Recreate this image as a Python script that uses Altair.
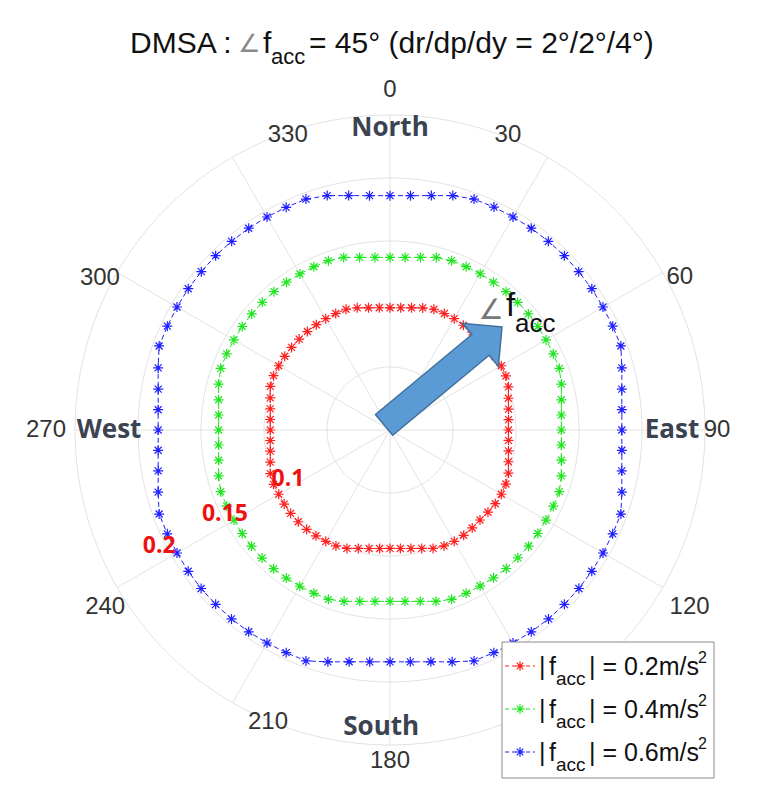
import altair as alt
import pandas as pd

# ---------------- data ----------------
angles = list(range(0, 360, 5))  # compass degrees, clockwise from North

red_r = [0.097, 0.0974, 0.0985, 0.1003, 0.102, 0.102, 0.102, 0.1015, 0.1015, 0.1015,
         0.1015, 0.1015, 0.102, 0.1015, 0.1000, 0.0973, 0.0955, 0.0944, 0.094, 0.0944,
         0.0955, 0.0973, 0.1000, 0.1015, 0.102, 0.102, 0.1015, 0.101, 0.1015, 0.102,
         0.102, 0.1015, 0.1000, 0.0973, 0.0955, 0.0944, 0.094, 0.0944, 0.0955, 0.0973,
         0.1000, 0.1015, 0.102, 0.1025, 0.103, 0.103, 0.103, 0.1025, 0.102, 0.102,
         0.1011, 0.0984, 0.0965, 0.0954, 0.095, 0.0954, 0.0965, 0.0984, 0.1011, 0.102,
         0.102, 0.102, 0.102, 0.102, 0.102, 0.102, 0.102, 0.102, 0.102, 0.1004,
         0.0985, 0.0974]

green_r = [0.137, 0.1375, 0.1391, 0.1418, 0.143, 0.143, 0.1432, 0.1432, 0.1433, 0.1433,
           0.1433, 0.1432, 0.143, 0.143, 0.143, 0.1408, 0.1381, 0.1365, 0.136, 0.1365,
           0.1381, 0.1408, 0.143, 0.143, 0.143, 0.1432, 0.1435, 0.1435, 0.1435, 0.1432,
           0.143, 0.143, 0.143, 0.1408, 0.1381, 0.1365, 0.136, 0.1365, 0.1381, 0.1408,
           0.143, 0.143, 0.1432, 0.1435, 0.1437, 0.1437, 0.1435, 0.1432, 0.143, 0.143,
           0.143, 0.1408, 0.1381, 0.1365, 0.136, 0.1365, 0.1381, 0.1408, 0.143, 0.143,
           0.143, 0.1432, 0.1433, 0.1433, 0.1433, 0.1432, 0.143, 0.143, 0.143, 0.1418,
           0.1391, 0.1375]

blue_r = [0.186, 0.1867, 0.1889, 0.1926, 0.195, 0.1952, 0.1952, 0.1955, 0.1955, 0.1957,
          0.1955, 0.1955, 0.1952, 0.195, 0.195, 0.1905, 0.1868, 0.1847, 0.184, 0.1847,
          0.1868, 0.1905, 0.195, 0.195, 0.1952, 0.1955, 0.1957, 0.1957, 0.1957, 0.1955,
          0.1952, 0.195, 0.195, 0.1905, 0.1868, 0.1847, 0.184, 0.1847, 0.1868, 0.1905,
          0.195, 0.195, 0.1952, 0.1955, 0.1957, 0.1957, 0.1957, 0.1955, 0.1952, 0.195,
          0.195, 0.1905, 0.1868, 0.1847, 0.184, 0.1847, 0.1868, 0.1905, 0.195, 0.195,
          0.1952, 0.1955, 0.1955, 0.1957, 0.1955, 0.1955, 0.1952, 0.195, 0.195, 0.1926,
          0.1889, 0.1867]

series_names = ["0.2", "0.4", "0.6"]
series_colors = ["#ff1f1f", "#1fe61f", "#1f1fff"]
series_values = [red_r, green_r, blue_r]

ring_values = [0.05, 0.10, 0.15, 0.20, 0.25]
spoke_angles = [0, 30, 60, 90, 120, 150]

angle_labels = ["0", "30", "60", "90", "120", "180", "210", "240", "270", "300", "330"]
angle_label_dir = [0, 21.8, 62.2, 90, 120.5, 180, 202.7, 238.2, 270, 297.7, 340.9]
angle_label_r = [0.270, 0.252, 0.260, 0.2595, 0.276, 0.263, 0.251, 0.266, 0.273, 0.260, 0.248]

dir_labels = ["North", "East", "South", "West"]
dir_label_dir = [0, 90, 181.7, 270]
dir_label_r = [0.2395, 0.2238, 0.2358, 0.223]

ring_labels = ["0.1", "0.15", "0.2"]
ring_label_r = [0.0898, 0.147, 0.205]
ring_label_dir = [244.4, 243.0, 243.3]

arrow_x = [0.0421]
arrow_y = [0.0429]

# ---------------- geometry ----------------
PXU = 1260.0           # pixels per radial unit
W, H = 749, 780
CX, CY = 382, 422      # centre of the polar plot inside the view
xdom = [-CX / PXU, (W - CX) / PXU]
ydom = [-(H - CY) / PXU, CY / PXU]
xs = alt.Scale(domain=xdom, nice=False, zero=False)
ys = alt.Scale(domain=ydom, nice=False, zero=False)

POLAR_X = "datum.r * sin(datum.a * PI / 180)"
POLAR_Y = "datum.r * cos(datum.a * PI / 180)"

def X(f="x"):
    return alt.X(f + ":Q", scale=xs, axis=None)

def Y(f="y"):
    return alt.Y(f + ":Q", scale=ys, axis=None)

# grid rings
grid_rows = [{"ring": rv, "a": a, "r": rv} for rv in ring_values for a in range(0, 362, 2)]
rings = alt.Chart(pd.DataFrame(grid_rows)).transform_calculate(
    x=POLAR_X, y=POLAR_Y
).mark_line(color="#e2e2e2", strokeWidth=1).encode(
    x=X(), y=Y(), detail="ring:N", order="a:Q"
)

spokes = alt.Chart(pd.DataFrame({"a": spoke_angles, "r": [max(ring_values)] * len(spoke_angles)})).transform_calculate(
    x=POLAR_X, y=POLAR_Y, x2="-datum.x", y2="-datum.y"
).mark_rule(color="#e2e2e2", strokeWidth=1).encode(
    x=X(), y=Y(), x2="x2:Q", y2="y2:Q"
)

# data series
rows = []
for name, vals in zip(series_names, series_values):
    for a, r in zip(angles, vals):
        rows.append({"s": name, "a": a, "r": r})
    rows.append({"s": name, "a": 360, "r": vals[0]})  # close the loop
df = pd.DataFrame(rows)
color = alt.Color("s:N", scale=alt.Scale(domain=series_names, range=series_colors), legend=None)

STAR = "M-1,0L1,0M0,-1L0,1M-0.7,-0.7L0.7,0.7M-0.7,0.7L0.7,-0.7"

lines = alt.Chart(df).transform_calculate(x=POLAR_X, y=POLAR_Y).mark_line(
    strokeWidth=1, strokeDash=[5, 3]
).encode(x=X(), y=Y(), color=color, detail="s:N", order="a:Q")

points = alt.Chart(df).transform_filter("datum.a < 360").transform_calculate(
    x=POLAR_X, y=POLAR_Y
).mark_point(shape=STAR, filled=False, size=100, strokeWidth=1.2, opacity=1).encode(
    x=X(), y=Y(), color=color
)

# arrow
ARROW = "M-1,-0.176L0.635,-0.176L0.635,-0.365L1,0L0.635,0.365L0.635,0.176L-1,0.176Z"
arrow = alt.Chart(pd.DataFrame({"x": arrow_x, "y": arrow_y})).mark_point(
    shape=ARROW, filled=True, fill="#5b9bd5", stroke="#41719c", strokeWidth=1.5,
    size=23500, angle=320.3, opacity=1, fillOpacity=1
).encode(x=X(), y=Y())

# labels on the polar grid
alab = alt.Chart(pd.DataFrame({"t": angle_labels, "a": angle_label_dir, "r": angle_label_r})).transform_calculate(
    x=POLAR_X, y=POLAR_Y
).mark_text(font="Liberation Sans", fontSize=24, color="#333333", baseline="middle", align="center").encode(
    x=X(), y=Y(), text="t:N"
)

dlab = alt.Chart(pd.DataFrame({"t": dir_labels, "a": dir_label_dir, "r": dir_label_r})).transform_calculate(
    x=POLAR_X, y=POLAR_Y
).mark_text(font="Open Sans", fontWeight="bold", fontSize=26, color="#3a4351", baseline="middle", align="center").encode(
    x=X(), y=Y(), text="t:N"
)

rlab = alt.Chart(pd.DataFrame({"t": ring_labels, "a": ring_label_dir, "r": ring_label_r})).transform_calculate(
    x=POLAR_X, y=POLAR_Y
).mark_text(font="Open Sans", fontWeight="bold", fontSize=23, color="#ee1111", baseline="middle", align="center").encode(
    x=X(), y=Y(), text="t:N"
)

one = pd.DataFrame({"k": [0]})

def txt(text, px, py, size, font="Liberation Sans", color="#111111", align="left", baseline="alphabetic"):
    return alt.Chart(one).mark_text(
        text=text, font=font, fontSize=size, color=color, align=align, baseline=baseline
    ).encode(x=alt.value(px - 8), y=alt.value(py - 8))

# title (page coordinates)
title_layers = [
    txt("DMSA : ", 130, 53, 30),
    txt("\u2220", 238, 52, 25, font="DejaVu Sans", color="#8a8a8a"),
    txt("f", 263, 53, 30),
    txt("acc", 271, 64, 22),
    txt(" = 45\u00b0 (dr/dp/dy = 2\u00b0/2\u00b0/4\u00b0)", 309, 53, 30),
]

# angle annotation near the arrow
ann_layers = [
    txt("\u2220", 491, 311, 28, font="DejaVu Sans", color="#777777", align="center", baseline="middle"),
    txt("f", 506, 316, 33),
    txt("acc", 515, 332, 26),
]

# legend
LX0, LX1, LY0, LY1 = 502, 714, 642, 778
legend_box = alt.Chart(one).mark_rect(fill="white", stroke="#8c8c8c", strokeWidth=1).encode(
    x=alt.value(LX0 - 8), x2=alt.value(LX1 - 8), y=alt.value(LY0 - 8), y2=alt.value(LY1 - 8)
)
legend_layers = [legend_box]
row_y = [666, 709, 752]
for name, col, ry in zip(series_names, series_colors, row_y):
    legend_layers.append(
        alt.Chart(one).mark_rule(color=col, strokeWidth=1, strokeDash=[4, 3]).encode(
            x=alt.value(505 - 8), x2=alt.value(535 - 8), y=alt.value(ry - 8)
        )
    )
    legend_layers.append(
        alt.Chart(one).mark_point(shape=STAR, filled=False, size=90, strokeWidth=1.2, color=col, opacity=1).encode(
            x=alt.value(520 - 8), y=alt.value(ry - 8)
        )
    )
    legend_layers += [
        txt("|", 539, ry + 9, 25),
        txt("f", 549, ry + 9, 25),
        txt("acc", 556, ry + 19, 19),
        txt("| = " + name + "m/s", 589, ry + 9, 25),
        txt("2", 698, ry - 3, 16),
    ]

chart = alt.layer(
    rings, spokes, lines, points, arrow, alab, dlab, rlab,
    *title_layers, *ann_layers, *legend_layers
).properties(
    width=W, height=H, autosize=alt.AutoSizeParams(type="none"), padding=0, background="white"
).configure_view(stroke=None)

chart.save("out.html", embed_options={"renderer": "svg", "actions": False})
